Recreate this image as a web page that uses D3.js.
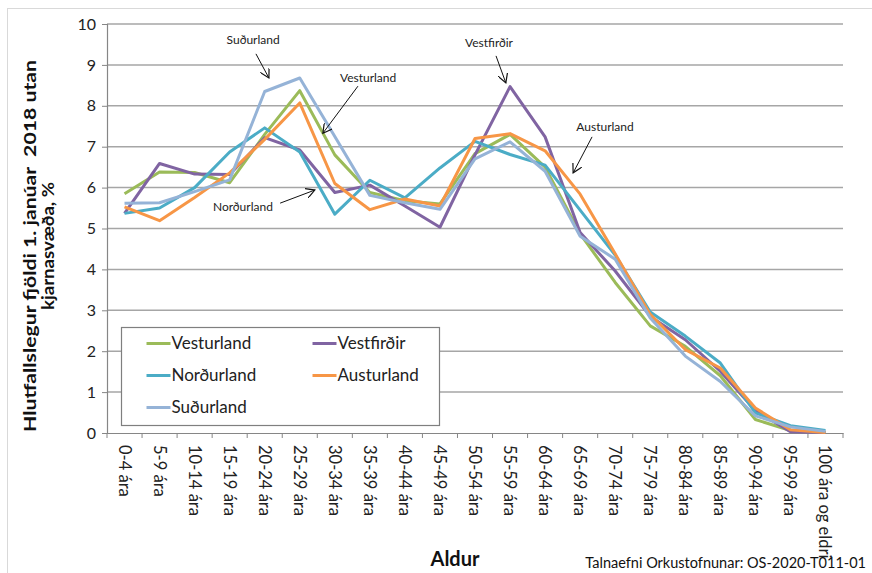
<!DOCTYPE html>
<html>
<head>
<meta charset="utf-8">
<script src="https://cdn.jsdelivr.net/npm/d3@7"></script>
<style>
  body { margin: 0; background: #fff; }
  svg { font-family: Lato, "Open Sans", sans-serif; }
</style>
</head>
<body>
<div id="chart"></div>
<script>
// aldurshópar
var categories = ["0-4 ára","5-9 ára","10-14 ára","15-19 ára","20-24 ára","25-29 ára","30-34 ára",
  "35-39 ára","40-44 ára","45-49 ára","50-54 ára","55-59 ára","60-64 ára","65-69 ára","70-74 ára",
  "75-79 ára","80-84 ára","85-89 ára","90-94 ára","95-99 ára","100 ára og eldri"]

var vesturland = [5.85, 6.38, 6.37, 6.12, 7.3, 8.37, 6.8, 5.88, 5.68, 5.6, 6.83, 7.3, 6.5, 4.87, 3.68, 2.62, 2.12, 1.4, 0.33, 0.06, 0.01]
var vestfirdir = [5.37, 6.59, 6.33, 6.32, 7.22, 6.92, 5.88, 6.06, 5.55, 5.03, 6.8, 8.47, 7.24, 4.9, 3.96, 2.85, 2.28, 1.51, 0.55, 0.03, 0.01]
var nordurland = [5.37, 5.5, 6.0, 6.87, 7.46, 6.87, 5.35, 6.18, 5.75, 6.48, 7.13, 6.81, 6.55, 5.45, 4.35, 2.96, 2.37, 1.71, 0.49, 0.18, 0.06]
var austurland = [5.53, 5.19, 5.76, 6.36, 7.18, 8.07, 6.1, 5.46, 5.72, 5.55, 7.2, 7.32, 6.9, 5.84, 4.38, 2.9, 2.04, 1.59, 0.61, 0.08, 0.01]
var sudurland  = [5.62, 5.63, 5.9, 6.19, 8.35, 8.68, 7.25, 5.81, 5.63, 5.47, 6.7, 7.12, 6.4, 4.81, 4.25, 2.81, 1.88, 1.26, 0.42, 0.15, 0.04]

var seriesNames = ["Vesturland", "Vestfirðir", "Norðurland", "Austurland", "Suðurland"]
var seriesValues = [vesturland, vestfirdir, nordurland, austurland, sudurland]
var seriesColors = ["#9BBB59", "#8064A2", "#4BACC6", "#F79646", "#95B3D7"]

var yTicks = [0,1,2,3,4,5,6,7,8,9,10]

// skýringar: texti og ör í gagnahnitum (index, gildi)
var annotations = [
  {label: "Suðurland",  tx: 3.67,  ty: 9.61, from: [3.75, 9.27],  to: [4.12, 8.68]},
  {label: "Vesturland", tx: 6.95,  ty: 8.68, from: [6.66, 8.48],  to: [5.66, 7.33]},
  {label: "Vestfirðir", tx: 10.4,  ty: 9.54, from: [10.6, 9.22],  to: [10.88, 8.56]},
  {label: "Austurland", tx: 13.71, ty: 7.48, from: [13.34, 7.24], to: [12.8, 6.36]},
  {label: "Norðurland", tx: 3.38,  ty: 5.53, from: [4.44, 5.62],  to: [5.43, 5.94]}
]

var width = 872, height = 573
var plot = {left: 107, right: 843, top: 24, bottom: 433}

var svg = d3.select("#chart").append("svg")
    .attr("width", width)
    .attr("height", height)

// rammi
svg.append("rect")
    .attr("x", 7.5).attr("y", 8.5)
    .attr("width", width + 10).attr("height", height + 10)
    .attr("fill", "none")
    .attr("stroke", "#D9D9D9")

var x = d3.scaleBand().domain(categories).range([plot.left, plot.right]).padding(0)
var xi = d3.scaleLinear().domain([-0.5, categories.length - 0.5]).range([plot.left, plot.right])
var y = d3.scaleLinear().domain([0, 10]).range([plot.bottom, plot.top])

// gridlines
svg.append("g").selectAll("line")
    .data(yTicks.slice(1))
    .enter().append("line")
    .attr("x1", plot.left).attr("x2", plot.right)
    .attr("y1", d => y(d)).attr("y2", d => y(d))
    .attr("stroke", "#A6A6A6")
    .attr("stroke-width", 1.5)

// y axis
var yAxis = svg.append("g")
    .attr("transform", "translate(" + plot.left + ",0)")
    .call(d3.axisLeft(y).tickValues(yTicks).tickSize(5).tickPadding(6))
yAxis.select(".domain").attr("stroke", "#868686").attr("stroke-width", 1.2)
yAxis.selectAll(".tick line").attr("stroke", "#868686")
yAxis.selectAll("text").attr("font-size", 16).attr("fill", "#222").attr("font-family", "Lato, sans-serif")

// x axis
var xAxis = svg.append("g")
    .attr("transform", "translate(0," + plot.bottom + ")")
    .call(d3.axisBottom(x).tickSize(0).tickFormat(""))
xAxis.select(".domain").attr("stroke", "#868686").attr("stroke-width", 1.2)

svg.append("g").selectAll("line")
    .data(d3.range(categories.length + 1))
    .enter().append("line")
    .attr("x1", d => xi(d - 0.5)).attr("x2", d => xi(d - 0.5))
    .attr("y1", plot.bottom).attr("y2", plot.bottom + 5)
    .attr("stroke", "#868686")

svg.append("g").selectAll("text")
    .data(categories)
    .enter().append("text")
    .attr("transform", d => "translate(" + (x(d) + x.bandwidth() / 2 - 6) + "," + (plot.bottom + 12) + ") rotate(90)")
    .attr("font-size", 16.5)
    .attr("fill", "#222")
    .text(d => d)

// lines
var line = d3.line()
    .x((d, i) => x(categories[i]) + x.bandwidth() / 2)
    .y(d => y(d))

svg.append("g").selectAll("path")
    .data(seriesValues)
    .enter().append("path")
    .attr("d", d => line(d))
    .attr("fill", "none")
    .attr("stroke", (d, i) => seriesColors[i])
    .attr("stroke-width", 3)
    .attr("stroke-linejoin", "round")

// örvar
svg.append("defs").append("marker")
    .attr("id", "arrow")
    .attr("viewBox", "0 0 10 10")
    .attr("refX", 9).attr("refY", 5)
    .attr("markerWidth", 10).attr("markerHeight", 10)
    .attr("markerUnits", "userSpaceOnUse")
    .attr("orient", "auto")
  .append("path")
    .attr("d", "M0,0 L9,5 L0,10")
    .attr("fill", "none")
    .attr("stroke", "#111")
    .attr("stroke-width", 1.2)

var ann = svg.append("g").selectAll("g").data(annotations).enter().append("g")
ann.append("line")
    .attr("x1", d => xi(d.from[0])).attr("y1", d => y(d.from[1]))
    .attr("x2", d => xi(d.to[0])).attr("y2", d => y(d.to[1]))
    .attr("stroke", "#111")
    .attr("stroke-width", 1)
    .attr("marker-end", "url(#arrow)")
ann.append("text")
    .attr("x", d => xi(d.tx)).attr("y", d => y(d.ty))
    .attr("dy", "0.35em")
    .attr("text-anchor", "middle")
    .attr("font-size", 12)
    .attr("fill", "#222")
    .text(d => d.label)

// legend
var legend = svg.append("g").attr("transform", "translate(121.5,327.5)")
legend.append("rect")
    .attr("width", 318).attr("height", 98)
    .attr("fill", "#fff")
    .attr("stroke", "#7F7F7F")
    .attr("stroke-width", 1.2)

var item = legend.selectAll(".item")
    .data(seriesNames)
    .enter().append("g")
    .attr("class", "item")
    .attr("transform", (d, i) => "translate(" + (25 + (i % 2) * 166) + "," + (16 + Math.floor(i / 2) * 32) + ")")
item.append("line")
    .attr("x1", 0).attr("x2", 24)
    .attr("stroke", (d, i) => seriesColors[i])
    .attr("stroke-width", 3)
item.append("text")
    .attr("x", 25).attr("dy", "0.35em")
    .attr("font-size", 17)
    .attr("fill", "#222")
    .text(d => d)

// ásaheiti
var yTitle = [
  {text: "Hlutfallslegur fjöldi 1. janúar  2018 utan", len: 372},
  {text: "kjarnasvæða, %", len: 128}
]
svg.append("text")
    .attr("transform", "translate(36,246) rotate(-90)")
    .attr("text-anchor", "middle")
    .attr("font-size", 17)
    .attr("font-weight", "bold")
    .attr("fill", "#111")
  .selectAll("tspan")
    .data(yTitle)
    .enter().append("tspan")
    .attr("x", 0)
    .attr("dy", (d, i) => i === 0 ? "0em" : "1.05em")
    .attr("textLength", d => d.len)
    .attr("lengthAdjust", "spacingAndGlyphs")
    .style("white-space", "pre")
    .text(d => d.text)

svg.append("text")
    .attr("x", 455).attr("y", 566)
    .attr("text-anchor", "middle")
    .attr("font-size", 20)
    .attr("font-weight", "bold")
    .attr("fill", "#111")
    .text("Aldur")

svg.append("text")
    .attr("x", 866).attr("y", 568)
    .attr("text-anchor", "end")
    .attr("font-size", 14.5)
    .attr("fill", "#111")
    .text("Talnaefni Orkustofnunar: OS-2020-T011-01")
</script>
</body>
</html>
